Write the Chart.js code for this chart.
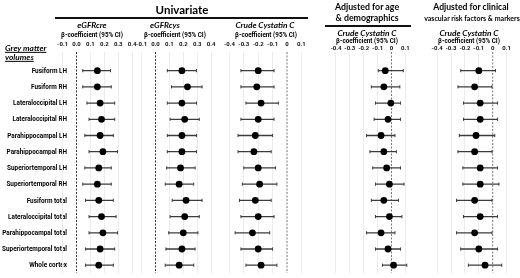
<!DOCTYPE html>
<html><head><meta charset="utf-8">
<script src="https://cdn.jsdelivr.net/npm/chart.js@4"></script>
<style>
html,body{margin:0;padding:0;background:#fff;overflow:hidden;width:520px;height:278px}
#wrap{position:relative;width:520px;height:278px;font-family:Lato,'Liberation Sans',sans-serif;color:#000;overflow:hidden}
canvas{position:absolute;top:0}
.t{position:absolute;white-space:nowrap;font-weight:bold;line-height:1}
.l{position:absolute;white-space:nowrap;transform:translate(0,-50%);font-weight:bold;font-style:italic;text-decoration:underline;line-height:1}
.hl{position:absolute;background:#111}
</style></head><body><div id="wrap"></div>
<script>
// ---------- DATA ----------
const rows = ['Fusiform LH','Fusiform RH','Lateraloccipital LH','Lateraloccipital RH','Parahippocampal LH','Parahippocampal RH','Superiortemporal LH','Superiortemporal RH','Fusiform total','Lateraloccipital total','Parahippocampal total','Superiortemporal total','Whole cortex'];

const tickValsPos = [-0.1,0,0.1,0.2,0.3,0.4];
const tickLabsPos = ['-0.1','0.0','0.1','0.2','0.3','0.4'];
const tickValsNeg = [-0.4,-0.3,-0.2,-0.1,0,0.1];
const tickLabsNeg = ['-0.4','-0.3','-0.2','-0.1','0','0.1'];

// eGFRcre (univariate)
const creEst = [0.15,0.15,0.17,0.18,0.17,0.19,0.16,0.15,0.16,0.18,0.19,0.17,0.16];
const creLo  = [0.045,0.045,0.075,0.09,0.06,0.09,0.06,0.045,0.065,0.09,0.09,0.065,0.065];
const creHi  = [0.245,0.25,0.275,0.275,0.265,0.295,0.25,0.25,0.265,0.285,0.295,0.275,0.265];
// eGFRcys (univariate)
const cysEst = [0.19,0.23,0.19,0.21,0.19,0.19,0.18,0.17,0.22,0.21,0.20,0.19,0.17];
const cysLo  = [0.085,0.115,0.085,0.105,0.085,0.085,0.08,0.07,0.12,0.105,0.095,0.075,0.07];
const cysHi  = [0.295,0.335,0.295,0.315,0.295,0.295,0.285,0.275,0.335,0.315,0.305,0.285,0.275];
// Crude Cystatin C (univariate)
const ccEst = [-0.20,-0.21,-0.18,-0.20,-0.22,-0.23,-0.20,-0.19,-0.22,-0.20,-0.24,-0.20,-0.18];
const ccLo  = [-0.32,-0.32,-0.285,-0.32,-0.34,-0.34,-0.30,-0.31,-0.33,-0.32,-0.36,-0.32,-0.285];
const ccHi  = [-0.09,-0.09,-0.06,-0.09,-0.10,-0.11,-0.08,-0.07,-0.11,-0.09,-0.12,-0.10,-0.07];
// Crude Cystatin C adjusted for age & demographics
const ageEst = [-0.045,-0.055,-0.005,-0.025,-0.075,-0.055,-0.035,-0.015,-0.055,-0.015,-0.075,-0.025,0.015];
const ageLo  = [-0.095,-0.145,-0.115,-0.125,-0.18,-0.155,-0.135,-0.115,-0.145,-0.115,-0.18,-0.115,-0.065];
const ageHi  = [0.085,0.06,0.065,0.065,0.025,0.035,0.065,0.09,0.05,0.075,0.025,0.065,0.11];
// Crude Cystatin C adjusted for clinical vascular risk factors & markers
const clinEst = [-0.10,-0.13,-0.09,-0.09,-0.12,-0.13,-0.09,-0.09,-0.13,-0.09,-0.13,-0.10,-0.055];
const clinLo  = [-0.23,-0.25,-0.21,-0.21,-0.24,-0.25,-0.215,-0.215,-0.26,-0.21,-0.26,-0.23,-0.175];
const clinHi  = [0.02,-0.005,0.035,0.035,0.015,-0.005,0.035,0.045,-0.005,0.035,-0.005,0.035,0.065];

// ---------- LAYOUT ----------
const W = 520, H = 278, TOP = 52;
const Y_MIN = -1.15, Y_MAX = 12.48;
const SANS = "Roboto, 'Liberation Sans', sans-serif";
const LABEL_RIGHT = 67, SQUEEZE = 0.82;
const wrap = document.getElementById('wrap');

const panels = [
  {est:creEst, lo:creLo, hi:creHi, tv:tickValsPos, tl:tickLabsPos, left:62.6, right:132.1, zero:'#333', labelY:44},
  {est:cysEst, lo:cysLo, hi:cysHi, tv:tickValsPos, tl:tickLabsPos, left:141.6, right:211.1, zero:'#333', labelY:44},
  {est:ccEst, lo:ccLo, hi:ccHi, tv:tickValsNeg, tl:tickLabsNeg, left:229.4, right:301.4, zero:'#777', labelY:44},
  {est:ageEst, lo:ageLo, hi:ageHi, tv:tickValsNeg, tl:tickLabsNeg, left:335.9, right:405.4, zero:'#777', labelY:48},
  {est:clinEst, lo:clinLo, hi:clinHi, tv:tickValsNeg, tl:tickLabsNeg, left:437.1, right:506.6, zero:'#777', labelY:48}
];

function addCanvas(left, width){
  const c = document.createElement('canvas');
  c.width = width; c.height = H;
  c.style.left = left + 'px';
  c.style.width = width + 'px'; c.style.height = H + 'px';
  wrap.appendChild(c);
  return c;
}

// Row labels (y axis only), horizontally condensed to mimic a narrow font
(function(){
  const c = addCanvas(0, 80);
  new Chart(c, {
    type:'scatter',
    data:{datasets:[{data:[]}]},
    options:{responsive:false, animation:false, devicePixelRatio:1,
      layout:{padding:{top:TOP, left:0, right:0, bottom:0}},
      plugins:{legend:{display:false}, tooltip:{enabled:false}},
      scales:{
        x:{type:'linear', display:false, min:0, max:1},
        y:{type:'linear', position:'left', min:Y_MIN, max:Y_MAX, reverse:true,
          afterBuildTicks:s=>{s.ticks = rows.map((_,i)=>({value:i}));},
          afterFit:s=>{s.width = LABEL_RIGHT; s._computeLabelArea = () => null;},
          grid:{display:false, drawTicks:false}, border:{display:false},
          ticks:{autoSkip:false, padding:0, color:'#000', font:{family:SANS, size:7.8, weight:'bold'},
            callback:v=>rows[v]}
        }
      }
    },
    plugins:[{id:'squeeze',
      beforeDraw(ch){ const ctx = ch.ctx; ctx.save(); ctx.translate(LABEL_RIGHT*(1-SQUEEZE),0); ctx.scale(SQUEEZE,1); },
      afterDraw(ch){ ch.ctx.restore(); }
    }]
  });
})();

panels.forEach(p=>{
  const cl = Math.floor(p.left) - 14, cr = Math.ceil(p.right) + 14;
  const c = addCanvas(cl, cr - cl);
  const ci = [];
  p.lo.forEach((lo,i)=>{ ci.push({x:lo,y:i},{x:p.hi[i],y:i},{x:null,y:null}); });
  new Chart(c, {
    type:'scatter',
    data:{datasets:[
      {data:p.est.map((v,i)=>({x:v,y:i})), showLine:false, pointRadius:3.4, pointBackgroundColor:'#000', pointBorderColor:'#000', pointBorderWidth:0, clip:false},
      {data:ci, showLine:true, spanGaps:false, borderColor:'#3c3c3c', borderWidth:1.3, pointStyle:'line', pointRotation:90, pointRadius:1.6, pointBorderColor:'#3c3c3c', pointBorderWidth:1, clip:false},
      {data:[{x:0,y:Y_MIN},{x:0,y:Y_MAX}], showLine:true, borderColor:p.zero, borderWidth:1, borderDash:[2,1.5], pointRadius:0}
    ]},
    options:{responsive:false, animation:false, devicePixelRatio:1,
      layout:{padding:{left:p.left - cl, right:cr - p.right, top:0, bottom:0}},
      plugins:{legend:{display:false}, tooltip:{enabled:false}},
      scales:{
        x:{type:'linear', position:'top', min:p.tv[0], max:p.tv[p.tv.length-1],
          afterBuildTicks:s=>{s.ticks = p.tv.map(v=>({value:v}));},
          afterFit:s=>{s.height = TOP;},
          grid:{drawTicks:false, lineWidth:1, color:ctx=>(ctx.tick && Math.abs(ctx.tick.value)<1e-9)?'rgba(0,0,0,0)':'#ececec'},
          border:{display:false},
          ticks:{autoSkip:false, maxRotation:0, padding:TOP - p.labelY - 3.6, color:'#111',
            font:{family:SANS, size:6, weight:'bold'}, callback:(v,i)=>p.tl[i]}
        },
        y:{type:'linear', display:false, min:Y_MIN, max:Y_MAX, reverse:true}
      }
    }
  });
});

// ---------- TEXT ----------
function txt(s, x, y, size, italic, fam, sx){
  const d = document.createElement('div');
  d.className = 't'; d.textContent = s;
  d.style.left = x + 'px'; d.style.top = y + 'px';
  d.style.fontSize = size + 'px';
  d.style.transform = 'translate(-50%,-50%) scaleX(' + (sx || 1) + ')';
  if (italic) d.style.fontStyle = 'italic';
  if (fam) d.style.fontFamily = fam;
  wrap.appendChild(d);
}
function hline(x, y, w, h){
  const d = document.createElement('div');
  d.className = 'hl';
  d.style.left = x + 'px'; d.style.top = y + 'px'; d.style.width = w + 'px'; d.style.height = h + 'px';
  wrap.appendChild(d);
}
const BETA = '\u03b2-coefficient (95% CI)';
txt('Univariate', 182, 10, 11.5);
hline(55, 17, 253, 2);
txt('eGFRcre', 92, 25, 8.3, true);
txt('eGFRcys', 165, 25, 8.3, true);
txt('Crude Cystatin C', 265, 25, 8.3, true);
txt(BETA, 92, 35, 7, false, SANS, 0.9);
txt(BETA, 175, 35, 7, false, SANS, 0.9);
txt(BETA, 266, 35, 7, false, SANS, 0.9);
txt('Adjusted for age', 367, 7, 8.8);
txt('& demographics', 367, 18, 8.8);
hline(325, 25, 86, 2);
txt('Crude Cystatin C', 367, 33, 8.3, true);
txt(BETA, 367, 41, 7, false, SANS, 0.9);
txt('Adjusted for clinical', 471, 7, 8.6);
txt('vascular risk factors & markers', 472, 18, 8.2, false, null, 0.86);
txt('Crude Cystatin C', 469, 33, 8.3, true);
txt(BETA, 469, 41, 7, false, SANS, 0.9);
['Grey matter','volumes'].forEach((s,i)=>{
  const d = document.createElement('div');
  d.className = 'l'; d.textContent = s;
  d.style.left = '5px'; d.style.top = (48 + i*9) + 'px'; d.style.fontSize = '8.3px';
  wrap.appendChild(d);
});
</script>
</body></html>
